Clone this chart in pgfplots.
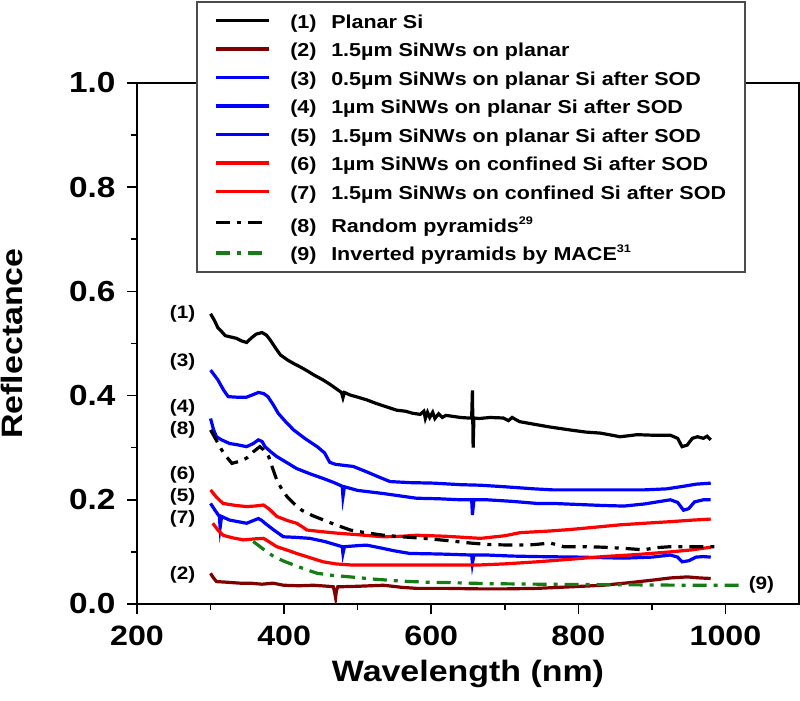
\documentclass[border=0pt]{standalone}
\usepackage{fontspec}
\setmainfont{Liberation Sans}[FakeStretch=1.15]
\usepackage{pgfplots}
\pgfplotsset{compat=1.18}
\definecolor{dred}{RGB}{128,0,0}
\definecolor{pblue}{RGB}{0,0,255}
\definecolor{pred}{RGB}{255,0,0}
\definecolor{pgreen}{RGB}{20,125,20}
\newcommand{\st}{\rule[-7pt]{0pt}{24pt}}
\newcommand{\stt}{\rule[-11.5pt]{0pt}{33pt}}
\newcommand{\supr}[1]{\raisebox{8pt}{\fontsize{11}{11}\selectfont #1}}
\newcommand{\lab}[1]{\hspace*{18pt}\makebox[41pt][l]{(#1)}}
\begin{document}
\begin{tikzpicture}
\path[use as bounding box] (0,0) rectangle (800pt,701pt);
\begin{axis}[
 at={(137pt,97pt)}, anchor=south west,
 scale only axis, width=662pt, height=521pt,
 xmin=200, xmax=1100, ymin=0, ymax=1,
 xtick={200,400,600,800,1000}, ytick={0,0.2,0.4,0.6,0.8,1.0},
 minor x tick num=1, minor y tick num=1,
 tick pos=left, tick align=outside,
 major tick length=10pt, minor tick length=6pt,
 every tick/.append style={line width=1.6pt, black},
 axis line style={line width=1.6pt},
 /pgf/number format/assume math mode=true,
 /pgf/number format/1000 sep={},
 x tick label style={font=\fontsize{28}{28}\selectfont\bfseries, yshift=-8pt},
 y tick label style={font=\fontsize{29}{29}\selectfont\bfseries, xshift=-8pt},
 yticklabel={\pgfmathprintnumber[fixed,fixed zerofill,precision=1]{\tick}},
 xlabel={Wavelength (nm)}, ylabel={Reflectance},
 label style={font=\fontsize{29.5}{29.5}\selectfont\bfseries},
 xlabel style={yshift=-8pt},
 ylabel style={yshift=39pt},
 legend image code/.code={\draw[#1, line width=3.5pt] (0pt,0pt) -- (53pt,0pt);},
 legend cell align=left,
 legend style={at={(rel axis cs:0.0891,1.1574)}, anchor=north west,
   draw=black!70, line width=1.6pt, fill=white,
   inner xsep=17pt, inner ysep=7.5pt, row sep=6pt,
   font=\fontsize{18.7}{18.7}\selectfont\bfseries},
 every axis plot/.append style={line width=3.2pt},
]
\addplot[black] coordinates {(300,0.557)(305,0.545)(310,0.530)(315,0.523)(320,0.515)(326,0.513)(335,0.510)(342,0.505)(349,0.502)(355,0.510)(362,0.518)(370,0.521)(376,0.516)(381,0.507)(388,0.492)(395,0.478)(405,0.468)(415,0.460)(422,0.455)(432,0.447)(440,0.440)(453,0.430)(462,0.422)(470,0.414)(478,0.406)(480,0.396)(482,0.406)(490,0.401)(500,0.397)(512,0.392)(525,0.385)(540,0.378)(553,0.372)(565,0.370)(575,0.366)(585,0.364)(590,0.370)(592,0.356)(595,0.368)(598,0.358)(602,0.368)(605,0.356)(610,0.365)(615,0.358)(620,0.362)(630,0.360)(640,0.358)(650,0.357)(655,0.357)(656,0.41)(657,0.30)(658,0.357)(665,0.356)(680,0.358)(698,0.357)(705,0.352)(710,0.358)(720,0.350)(744,0.344)(760,0.340)(789,0.334)(810,0.330)(830,0.328)(857,0.321)(880,0.325)(900,0.324)(925,0.324)(935,0.318)(941,0.302)(948,0.305)(955,0.318)(962,0.321)(970,0.318)(975,0.322)(980,0.315)};
\addlegendentry{\lab{1}Planar Si\st}
\addplot[dred] coordinates {(300,0.059)(303,0.052)(308,0.043)(320,0.042)(340,0.040)(354,0.040)(370,0.038)(385,0.040)(399,0.036)(420,0.035)(440,0.036)(460,0.034)(467,0.033)(469,0.020)(470,0.012)(471,0.025)(473,0.033)(500,0.034)(535,0.036)(560,0.032)(580,0.030)(620,0.030)(667,0.029)(700,0.029)(744,0.030)(790,0.033)(834,0.036)(870,0.041)(902,0.046)(925,0.050)(948,0.052)(965,0.050)(980,0.049)};
\addlegendentry{\lab{2}1.5µm SiNWs on planar\st}
\addplot[pblue] coordinates {(300,0.449)(310,0.430)(318,0.410)(324,0.398)(335,0.397)(349,0.397)(358,0.402)(365,0.406)(372,0.404)(378,0.398)(385,0.383)(392,0.366)(402,0.350)(413,0.334)(428,0.318)(445,0.302)(455,0.290)(462,0.272)(470,0.268)(494,0.264)(510,0.255)(530,0.243)(544,0.235)(570,0.233)(603,0.232)(640,0.229)(667,0.228)(700,0.225)(740,0.221)(766,0.219)(820,0.219)(889,0.219)(920,0.221)(943,0.226)(960,0.230)(980,0.232)};
\addlegendentry{\lab{3}0.5µm SiNWs on planar Si after SOD\st}
\addplot[pblue] coordinates {(300,0.356)(304,0.335)(308,0.321)(315,0.315)(326,0.308)(335,0.306)(349,0.302)(358,0.308)(365,0.315)(370,0.312)(374,0.302)(382,0.292)(390,0.283)(403,0.272)(417,0.260)(435,0.250)(453,0.241)(468,0.233)(479,0.226)(480,0.206)(482,0.225)(500,0.218)(535,0.212)(555,0.208)(580,0.203)(610,0.202)(640,0.200)(655,0.200)(656,0.171)(658,0.200)(676,0.200)(710,0.197)(744,0.193)(766,0.193)(800,0.191)(835,0.189)(862,0.188)(890,0.192)(925,0.200)(935,0.195)(943,0.180)(950,0.183)(958,0.196)(970,0.200)(980,0.200)};
\addlegendentry{\lab{4}1µm SiNWs on planar Si after SOD\st}
\addplot[pblue] coordinates {(300,0.193)(306,0.180)(312,0.168)(313,0.147)(315,0.168)(326,0.161)(349,0.155)(358,0.160)(365,0.164)(370,0.160)(374,0.155)(386,0.142)(399,0.129)(415,0.128)(435,0.126)(455,0.120)(479,0.110)(480,0.097)(482,0.110)(500,0.112)(512,0.113)(530,0.108)(550,0.102)(571,0.097)(610,0.096)(655,0.094)(656,0.078)(658,0.094)(676,0.094)(710,0.092)(744,0.091)(800,0.090)(862,0.088)(900,0.090)(925,0.094)(935,0.090)(941,0.081)(950,0.083)(960,0.090)(970,0.091)(980,0.090)};
\addlegendentry{\lab{5}1.5µm SiNWs on planar Si after SOD\st}
\addplot[pred] coordinates {(300,0.219)(308,0.205)(317,0.193)(335,0.189)(349,0.187)(360,0.188)(372,0.190)(380,0.182)(390,0.168)(405,0.160)(417,0.155)(425,0.148)(431,0.142)(450,0.139)(472,0.136)(500,0.133)(535,0.129)(560,0.130)(580,0.132)(620,0.130)(667,0.126)(700,0.131)(721,0.137)(760,0.140)(789,0.143)(820,0.147)(857,0.152)(890,0.155)(925,0.158)(955,0.161)(980,0.163)};
\addlegendentry{\lab{6}1µm SiNWs on confined Si after SOD\st}
\addplot[pred] coordinates {(303,0.155)(310,0.142)(317,0.132)(330,0.127)(345,0.123)(360,0.125)(372,0.126)(380,0.119)(390,0.110)(405,0.103)(417,0.097)(435,0.089)(453,0.081)(470,0.077)(490,0.075)(540,0.075)(580,0.075)(620,0.075)(667,0.075)(700,0.077)(744,0.081)(790,0.086)(834,0.091)(880,0.095)(925,0.100)(955,0.104)(980,0.109)};
\addlegendentry{\lab{7}1.5µm SiNWs on confined Si after SOD\st}
\addplot[black, dash pattern=on 14pt off 7pt on 4pt off 7pt] coordinates {(300,0.334)(308,0.314)(315,0.296)(322,0.282)(329,0.270)(340,0.274)(349,0.280)(358,0.292)(367,0.302)(372,0.296)(379,0.283)(385,0.258)(390,0.238)(397,0.220)(404,0.206)(414,0.192)(424,0.180)(438,0.170)(454,0.161)(470,0.152)(490,0.142)(510,0.137)(535,0.132)(560,0.129)(590,0.126)(620,0.122)(653,0.117)(680,0.114)(712,0.113)(740,0.114)(762,0.117)(780,0.110)(810,0.110)(834,0.109)(860,0.107)(889,0.104)(905,0.108)(925,0.110)(950,0.110)(970,0.110)(985,0.110)};
\addlegendentry{\lab{8}Random pyramids\supr{29}\stt}
\addplot[pgreen, dash pattern=on 14pt off 7pt on 4pt off 7pt] coordinates {(358,0.120)(372,0.105)(386,0.091)(400,0.082)(413,0.075)(430,0.066)(445,0.059)(465,0.055)(490,0.052)(520,0.048)(558,0.044)(590,0.042)(626,0.041)(680,0.039)(750,0.038)(850,0.037)(950,0.036)(1018,0.036)};
\addlegendentry{\lab{9}Inverted pyramids by MACE\supr{31}\st}
\begin{scope}[every node/.style={font=\fontsize{18}{18}\selectfont\bfseries}]
\node[anchor=east] at (axis cs:284,0.557) {(1)};
\node[anchor=east] at (axis cs:284,0.465) {(3)};
\node[anchor=east] at (axis cs:284,0.376) {(4)};
\node[anchor=east] at (axis cs:284,0.334) {(8)};
\node[anchor=east] at (axis cs:284,0.248) {(6)};
\node[anchor=east] at (axis cs:284,0.205) {(5)};
\node[anchor=east] at (axis cs:284,0.164) {(7)};
\node[anchor=east] at (axis cs:284,0.056) {(2)};
\node[anchor=west] at (axis cs:1027,0.036) {(9)};
\end{scope}
\end{axis}
\end{tikzpicture}
\end{document}
